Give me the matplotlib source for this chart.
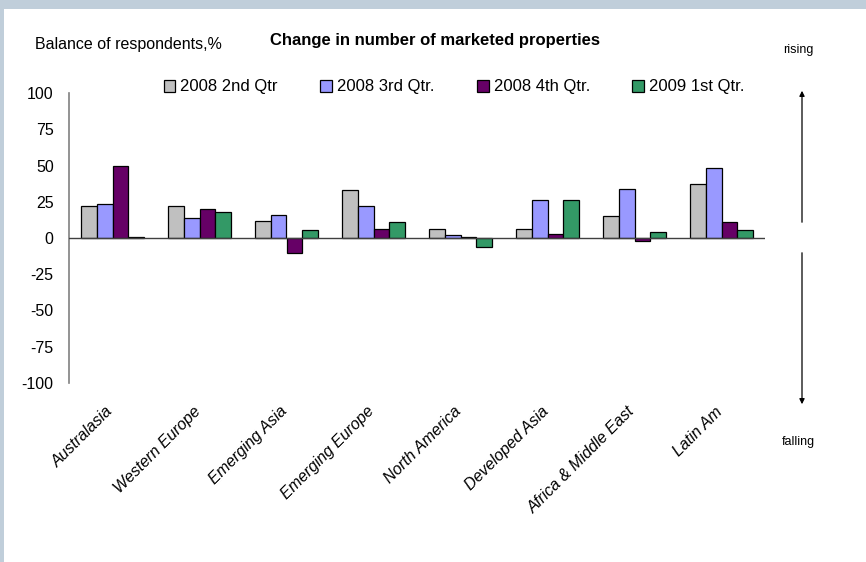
import matplotlib
matplotlib.use("Agg")
import matplotlib.pyplot as plt
import matplotlib.transforms as mtransforms
import numpy as np
from matplotlib.patches import Rectangle, FancyArrowPatch

plt.rcParams['font.family'] = ['Liberation Sans', 'DejaVu Sans']
plt.rcParams['axes.unicode_minus'] = False

regions = ["Australasia", "Western Europe", "Emerging Asia", "Emerging Europe",
           "North America", "Developed Asia", "Africa & Middle East", "Latin Am"]
series_names = ["2008 2nd Qtr", "2008 3rd Qtr.", "2008 4th Qtr.", "2009 1st Qtr."]
q2_2008 = [22, 22, 12, 33, 6, 6, 15, 37]
q3_2008 = [23.5, 14, 16, 22, 2, 26, 34, 48]
q4_2008 = [50, 20, -10, 6, 0.5, 3, -2, 11]
q1_2009 = [1, 18, 5.5, 11, -6, 26, 4, 5.5]
colors = ["#C0C0C0", "#9999FF", "#660066", "#339966"]

W, H = 866, 562
fig = plt.figure(figsize=(W / 100, H / 100), dpi=100)

# light border at top and left
fig.add_artist(Rectangle((0, 1 - 9 / H), 1, 9 / H, transform=fig.transFigure,
                         facecolor="#C0CEDA", edgecolor="none", zorder=0))
fig.add_artist(Rectangle((0, 0), 4 / W, 1, transform=fig.transFigure,
                         facecolor="#C0CEDA", edgecolor="none", zorder=0))

ax = fig.add_axes([69 / W, 1 - 383 / H, 696 / W, 290 / H])

x = np.arange(len(regions))
w = 0.18
handles = []
for i, (vals, c) in enumerate(zip([q2_2008, q3_2008, q4_2008, q1_2009], colors)):
    b = ax.bar(x + (i - 1.5) * w, vals, w, color=c, edgecolor="black", linewidth=0.9,
               label=series_names[i], zorder=3)
    handles.append(b)

ax.axhline(0, color="#404040", linewidth=1, zorder=4)
ax.set_xlim(-0.5, len(regions) - 0.5)
ax.set_ylim(-100, 100)
ax.set_yticks(np.arange(-100, 101, 25))
ax.tick_params(axis="y", length=0, pad=11, labelsize=11.5)
ax.set_xticks(x)
ax.set_xticklabels(regions, rotation=45, ha="right", va="top", rotation_mode="anchor",
                   fontstyle="italic", fontsize=11.5)
ax.tick_params(axis="x", length=0, pad=15)
shift = mtransforms.ScaledTranslation(-7 / 100, 0, fig.dpi_scale_trans)
for t in ax.get_xticklabels():
    t.set_transform(t.get_transform() + shift)
for s in ["top", "right", "bottom"]:
    ax.spines[s].set_visible(False)
ax.spines["left"].set_color("#808080")
ax.spines["left"].set_linewidth(1.2)

fig.legend(handles=handles, loc="center", bbox_to_anchor=(454 / W, 1 - 87 / H),
           ncol=4, frameon=False, fontsize=12, handlelength=0.7, handleheight=0.7,
           handletextpad=0.3, columnspacing=2.55)

fig.text(435 / W, 1 - 40 / H, "Change in number of marketed properties",
         ha="center", va="center", fontsize=12, fontweight="bold")
fig.text(35 / W, 1 - 45 / H, "Balance of respondents,%", ha="left", va="center",
         fontsize=11.5)
fig.text(798 / W, 1 - 50 / H, "rising", ha="center", va="center", fontsize=9)
fig.text(798 / W, 1 - 442 / H, "falling", ha="center", va="center", fontsize=9)

ax_x = 802 / W
fig.add_artist(FancyArrowPatch((ax_x, 1 - 225 / H), (ax_x, 1 - 88 / H),
                               transform=fig.transFigure, arrowstyle="-|>,head_length=3,head_width=1.5",
                               color="black", linewidth=0.9))
fig.add_artist(FancyArrowPatch((ax_x, 1 - 250 / H), (ax_x, 1 - 407 / H),
                               transform=fig.transFigure, arrowstyle="-|>,head_length=3,head_width=1.5",
                               color="black", linewidth=0.9))

fig.savefig("out.png", dpi=100)
